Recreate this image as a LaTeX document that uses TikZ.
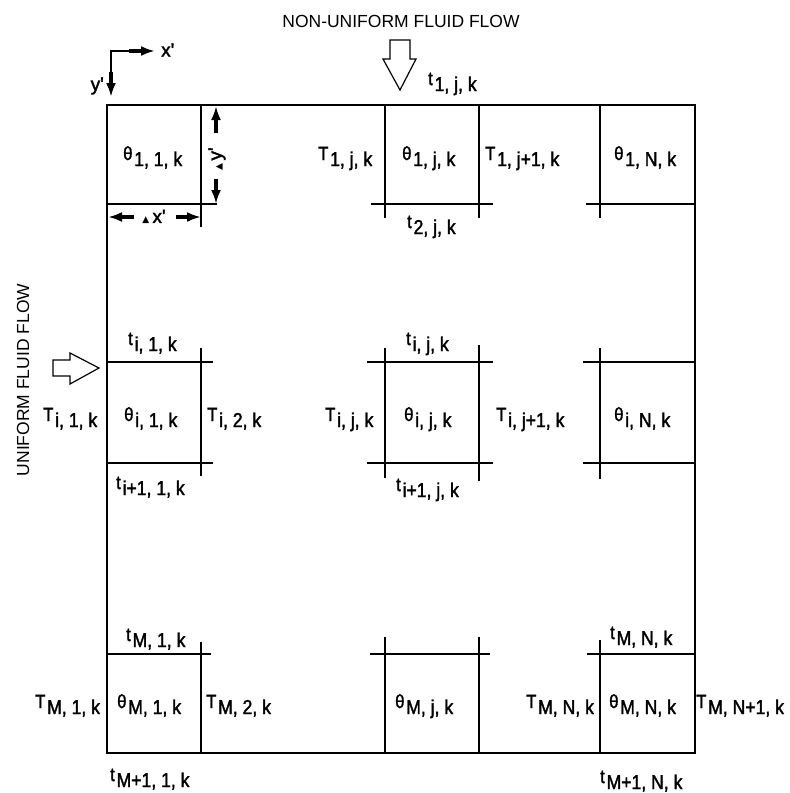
\documentclass[tikz,border=0pt]{standalone}
\usepackage{fontspec}
\setmainfont{Liberation Sans}
\newfontfamily\letr[FakeBold=2]{Liberation Sans}
\newfontfamily\symf{DejaVu Sans}
\usetikzlibrary{arrows.meta}
\newcommand\lbl[2]{\scalebox{0.88}[1]{\raisebox{6pt}{\fontsize{19}{19}\selectfont #1}\hspace{2pt}#2}}
\tikzset{
  lab/.style={anchor=base west, inner sep=0pt, font=\letr\fontsize{20}{22}\selectfont},
  ttl/.style={inner sep=0pt, font=\fontsize{17.5}{20}\selectfont},
  ln/.style={line width=1.4pt},
  fat/.style={line width=4.5pt, -{Latex[length=14pt,width=10pt]}},
  flow/.style={line width=1.2pt, line join=miter}
}
\begin{document}
\begin{tikzpicture}[x=1pt,y=-1pt]
\useasboundingbox (0,0) rectangle (790,793);
% outer boundary
\draw[ln] (107,105) rectangle (695,753);
% row 1 cells
\draw[ln] (201,105) -- (201,227);
\draw[ln] (107,204) -- (217,204);
\draw[ln] (385,105) -- (385,218) (479,105) -- (479,218) (371,204) -- (493,204);
\draw[ln] (600,105) -- (600,218) (586,204) -- (695,204);
% row i cells
\draw[ln] (107,362) -- (213,362) (107,463) -- (213,463) (201,348) -- (201,476);
\draw[ln] (367,362) -- (493,362) (367,463) -- (493,463) (385,348) -- (385,478) (479,345) -- (479,481);
\draw[ln] (583,362) -- (695,362) (583,463) -- (695,463) (600,348) -- (600,479);
% row M cells
\draw[ln] (107,654) -- (211,654) (201,642) -- (201,753);
\draw[ln] (370,654) -- (490,654) (385,637) -- (385,753) (479,637) -- (479,753);
\draw[ln] (587,654) -- (695,654) (600,640) -- (600,753);
% axes
\coordinate (o) at (111,51);
\draw[line width=1.2pt] (111,80) -- (o) -- (130,51);
\draw[fat] (129,51) -- (155,51);
\draw[fat] (111,72) -- (111,97);
\node[ttl, anchor=west, font=\letr\fontsize{19}{20}\selectfont] (xa) at (161,50) {x'};
\node[ttl, anchor=east, font=\letr\fontsize{19}{20}\selectfont] (ya) at (104,86) {y'};
% dimension arrows
\draw[fat] (134,217) -- (108,217);
\draw[fat] (176,217) -- (201,217);
\node[ttl, font=\letr\fontsize{19}{20}\selectfont] (dx) at (154,217) {{\symf\fontsize{9}{10}\selectfont ▲}\,x'};
\draw[fat] (216,133) -- (216,106);
\draw[fat] (216,179) -- (216,204);
\node[ttl, rotate=90, font=\letr\fontsize{19}{20}\selectfont] (dy) at (217,159) {{\symf\fontsize{9}{10}\selectfont ▲}\,y'};
% flow arrows
\draw[flow] (390,40) -- (410,40) -- (410,59) -- (416,59) -- (400,90) -- (383,59) -- (390,59) -- cycle;
\draw[flow] (53,360) -- (70,360) -- (70,353) -- (99,368) -- (70,384) -- (70,376) -- (53,376) -- cycle;
\node[ttl] (top) at (401,21) {NON-UNIFORM FLUID FLOW};
\node[ttl, rotate=90] (left) at (23,380) {UNIFORM FLUID FLOW};
% labels row 1
\node[lab] (a1) at (123,166) {\lbl{θ}{1, 1, k}};
\node[lab] (a2) at (318,166) {\lbl{T}{1, j, k}};
\node[lab] (a3) at (428,91) {\lbl{t}{1, j, k}};
\node[lab] (a4) at (402,166) {\lbl{θ}{1, j, k}};
\node[lab] (a5) at (485,166) {\lbl{T}{1, j+1, k}};
\node[lab] (a6) at (614,166) {\lbl{θ}{1, N, k}};
\node[lab] (a7) at (407,234) {\lbl{t}{2, j, k}};
% labels row i
\node[lab] (b1) at (128,351) {\lbl{t}{i, 1, k}};
\node[lab] (b2) at (43,427) {\lbl{T}{i, 1, k}};
\node[lab] (b3) at (124,427) {\lbl{θ}{i, 1, k}};
\node[lab] (b4) at (207,427) {\lbl{T}{i, 2, k}};
\node[lab] (b5) at (325,427) {\lbl{T}{i, j, k}};
\node[lab] (b6) at (406,351) {\lbl{t}{i, j, k}};
\node[lab] (b7) at (404,427) {\lbl{θ}{i, j, k}};
\node[lab] (b8) at (496,427) {\lbl{T}{i, j+1, k}};
\node[lab] (b9) at (614,427) {\lbl{θ}{i, N, k}};
\node[lab] (b10) at (116,495) {\lbl{t}{i+1, 1, k}};
\node[lab] (b11) at (396,497) {\lbl{t}{i+1, j, k}};
% labels row M
\node[lab] (c1) at (126,647) {\lbl{t}{M, 1, k}};
\node[lab] (c2) at (35,714) {\lbl{T}{M, 1, k}};
\node[lab] (c3) at (117,714) {\lbl{θ}{M, 1, k}};
\node[lab] (c4) at (206,714) {\lbl{T}{M, 2, k}};
\node[lab] (c5) at (110,787) {\lbl{t}{M+1, 1, k}};
\node[lab] (c6) at (395,714) {\lbl{θ}{M, j, k}};
\node[lab] (c7) at (526,714) {\lbl{T}{M, N, k}};
\node[lab] (c8) at (609,714) {\lbl{θ}{M, N, k}};
\node[lab] (c9) at (696,714) {\lbl{T}{M, N+1, k}};
\node[lab] (c10) at (610,645) {\lbl{t}{M, N, k}};
\node[lab] (c11) at (600,789) {\lbl{t}{M+1, N, k}};
\end{tikzpicture}
\end{document}
